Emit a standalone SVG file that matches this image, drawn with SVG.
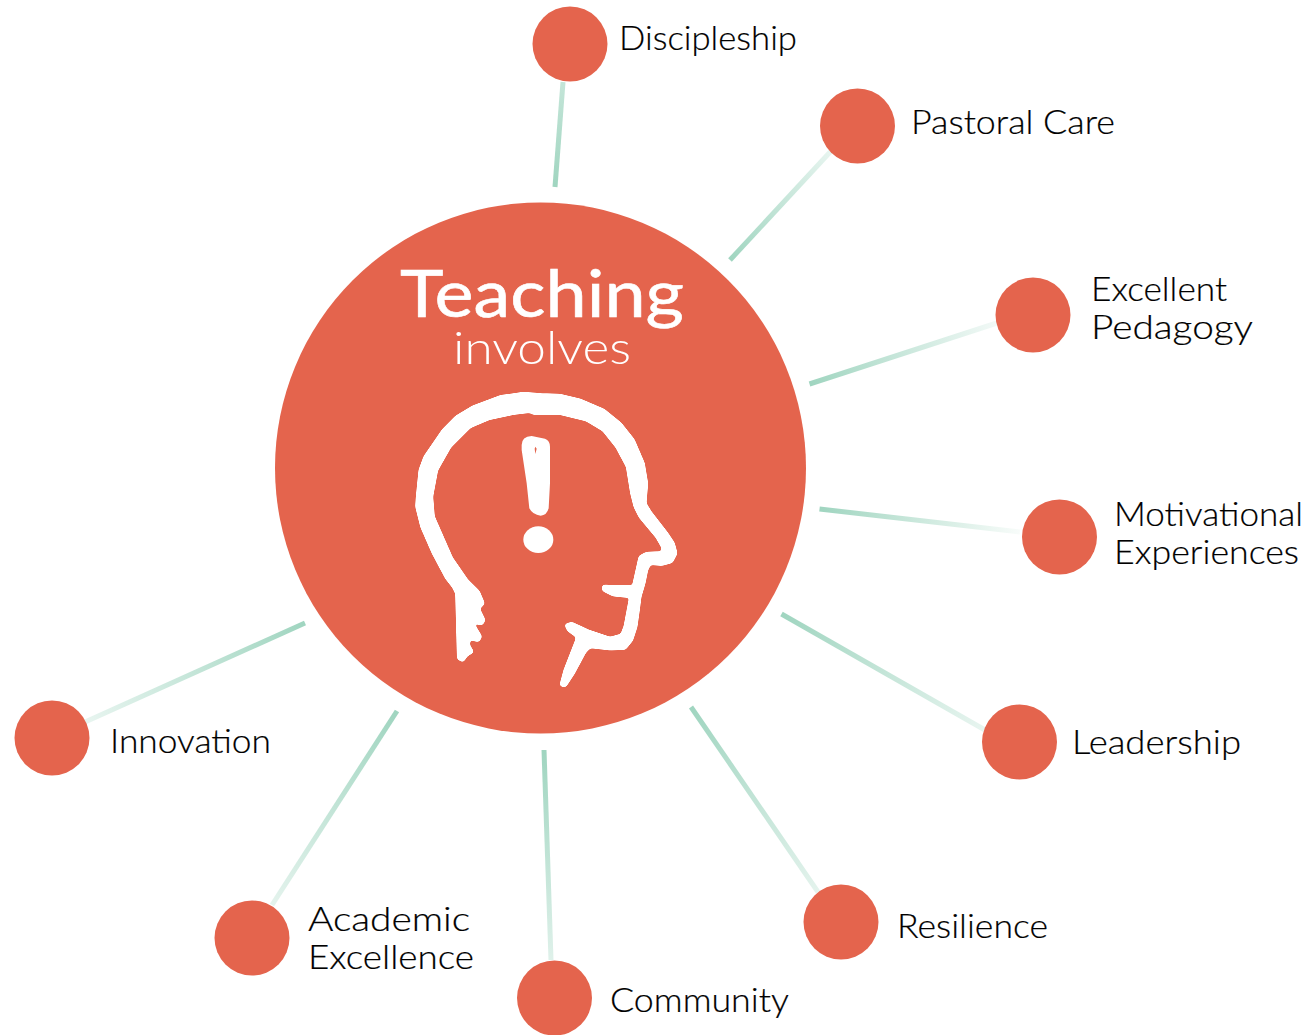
<svg xmlns="http://www.w3.org/2000/svg" width="1313" height="1035" viewBox="0 0 1313 1035">
<style>
.n{fill:#e4644d}
.t{font-family:"Lato","Liberation Sans",sans-serif;font-weight:300;font-size:33px;fill:#000;stroke:#000;stroke-width:.2}
.w{font-family:"Lato","Liberation Sans",sans-serif;fill:#fff;text-anchor:start}
.c{stroke-width:5;fill:none}
</style>
<defs>
<filter id="smooth" x="-5%" y="-5%" width="110%" height="110%" color-interpolation-filters="sRGB">
<feGaussianBlur stdDeviation="5"/>
<feComponentTransfer><feFuncA type="linear" slope="7" intercept="-1.8"/></feComponentTransfer>
</filter>
<linearGradient id="g1" gradientUnits="userSpaceOnUse" x1="555" y1="187" x2="563" y2="82"><stop offset="0" stop-color="#a0d5c0"/><stop offset="1" stop-color="#c4e5d8"/></linearGradient>
<linearGradient id="g2" gradientUnits="userSpaceOnUse" x1="730" y1="260" x2="832" y2="150"><stop offset="0" stop-color="#a0d5c0"/><stop offset="1" stop-color="#e8f5f0"/></linearGradient>
<linearGradient id="g3" gradientUnits="userSpaceOnUse" x1="810" y1="384" x2="1000" y2="322"><stop offset="0" stop-color="#a0d5c0"/><stop offset="1" stop-color="#f4faf8"/></linearGradient>
<linearGradient id="g4" gradientUnits="userSpaceOnUse" x1="820" y1="509" x2="1020" y2="532"><stop offset="0" stop-color="#a0d5c0"/><stop offset="1" stop-color="#f8fcfa"/></linearGradient>
<linearGradient id="g5" gradientUnits="userSpaceOnUse" x1="782" y1="614" x2="985" y2="730"><stop offset="0" stop-color="#a0d5c0"/><stop offset="1" stop-color="#e8f5f0"/></linearGradient>
<linearGradient id="g6" gradientUnits="userSpaceOnUse" x1="691" y1="707" x2="818" y2="892"><stop offset="0" stop-color="#a0d5c0"/><stop offset="1" stop-color="#e4f3ed"/></linearGradient>
<linearGradient id="g7" gradientUnits="userSpaceOnUse" x1="544" y1="750" x2="551" y2="960"><stop offset="0" stop-color="#a0d5c0"/><stop offset="1" stop-color="#dff1ea"/></linearGradient>
<linearGradient id="g8" gradientUnits="userSpaceOnUse" x1="397" y1="711" x2="272" y2="905"><stop offset="0" stop-color="#a0d5c0"/><stop offset="1" stop-color="#e4f3ed"/></linearGradient>
<linearGradient id="g9" gradientUnits="userSpaceOnUse" x1="305" y1="623" x2="85" y2="722"><stop offset="0" stop-color="#a0d5c0"/><stop offset="1" stop-color="#e8f5f0"/></linearGradient>
</defs>
<rect width="1313" height="1035" fill="#fff"/>
<g id="connectors">
<line class="c" stroke="url(#g1)" x1="555" y1="187" x2="563" y2="82"/>
<line class="c" stroke="url(#g2)" x1="730" y1="260" x2="832" y2="150"/>
<line class="c" stroke="url(#g3)" x1="809.500" y1="384" x2="1000" y2="322"/>
<line class="c" stroke="url(#g4)" x1="819.500" y1="509" x2="1020" y2="532"/>
<line class="c" stroke="url(#g5)" x1="781.500" y1="614" x2="985" y2="730"/>
<line class="c" stroke="url(#g6)" x1="691" y1="707" x2="818" y2="892"/>
<line class="c" stroke="url(#g7)" x1="544" y1="750" x2="551" y2="960"/>
<line class="c" stroke="url(#g8)" x1="397" y1="711" x2="272" y2="905"/>
<line class="c" stroke="url(#g9)" x1="305" y1="623" x2="85" y2="722"/>
</g>
<g id="center">
<circle class="n" cx="540.500" cy="468" r="265.500"/>
<text class="w" x="400" y="317" font-size="66" font-weight="400" stroke="#fff" stroke-width=".6" textLength="284" lengthAdjust="spacingAndGlyphs">Teaching</text>
<text class="w" x="453" y="364" font-size="46" font-weight="300" textLength="178" lengthAdjust="spacingAndGlyphs">involves</text>
<g id="head" transform="translate(390 250) scale(.33333)">
<path filter="url(#smooth)" fill="#fff" stroke="#fff" stroke-width="5" stroke-linejoin="round" d="M205 1215L200 1030 190 1010 170 985 130 910 95 830 80 770 82 740 90 660 105 620 160 540 200 500 250 470 330 440 400 430 450 434 510 436 570 450 640 480 690 520 730 570 760 640 770 700 765 760 780 785 830 850 850 880 858 910 845 935 815 943 780 940 770 960 762 1000 750 1040 745 1080 738 1130 725 1170 705 1195 660 1197 600 1190 585 1205 550 1270 525 1308 513 1305 525 1260 560 1170 562 1160 535 1140 528 1125 545 1120 600 1145 660 1165 695 1155 705 1130 722 1040 670 1035 640 1020 640 1008 670 1010 730 1010 750 920 770 910 815 908 820 895 800 860 750 800 735 770 725 730 712 650 680 590 640 540 590 510 510 490 430 490 420 484 370 490 300 505 240 530 180 590 140 660 125 740 130 800 185 925 230 990 265 1025 280 1060 265 1075 282 1110 275 1122 245 1115 272 1160 265 1172 238 1165 235 1185 247 1205 230 1215 218 1232 205 1225Z"/>
<path fill="#fff" fill-rule="evenodd" d="M395 585Q395 560 425 558L465 566Q480 572 480 590L480 700 476 775Q470 797 452 797 428 795 418 775L410 700 395 600ZM434 596L436 612 440 596 436 590Z"/>
<ellipse cx="445" cy="869" rx="45" ry="40" fill="#fff"/>
</g>
</g>
<g id="discipleship"><circle class="n" cx="570" cy="44" r="37.500"/><text class="t" x="619" y="50" textLength="178" lengthAdjust="spacingAndGlyphs">Discipleship</text></g>
<g id="pastoral-care"><circle class="n" cx="857.500" cy="126" r="37.500"/><text class="t" x="911" y="134" textLength="204" lengthAdjust="spacingAndGlyphs">Pastoral Care</text></g>
<g id="excellent-pedagogy"><circle class="n" cx="1033" cy="315" r="37.500"/><text class="t" x="1091" y="301" textLength="136" lengthAdjust="spacingAndGlyphs">Excellent</text><text class="t" x="1091" y="339" textLength="162" lengthAdjust="spacingAndGlyphs">Pedagogy</text></g>
<g id="motivational-experiences"><circle class="n" cx="1059.500" cy="537" r="37.500"/><text class="t" x="1114" y="526" textLength="189" lengthAdjust="spacingAndGlyphs">Motivational</text><text class="t" x="1114" y="564" textLength="185" lengthAdjust="spacingAndGlyphs">Experiences</text></g>
<g id="leadership"><circle class="n" cx="1019.500" cy="742" r="37.500"/><text class="t" x="1072" y="754" textLength="169" lengthAdjust="spacingAndGlyphs">Leadership</text></g>
<g id="resilience"><circle class="n" cx="841" cy="922" r="37.500"/><text class="t" x="897" y="938" textLength="151" lengthAdjust="spacingAndGlyphs">Resilience</text></g>
<g id="community"><circle class="n" cx="554.500" cy="998" r="37.500"/><text class="t" x="610" y="1012" textLength="179" lengthAdjust="spacingAndGlyphs">Community</text></g>
<g id="academic-excellence"><circle class="n" cx="252" cy="938" r="37.500"/><text class="t" x="308" y="931" textLength="162" lengthAdjust="spacingAndGlyphs">Academic</text><text class="t" x="308" y="969" textLength="166" lengthAdjust="spacingAndGlyphs">Excellence</text></g>
<g id="innovation"><circle class="n" cx="52" cy="738" r="37.500"/><text class="t" x="110" y="753" textLength="161" lengthAdjust="spacingAndGlyphs">Innovation</text></g>
</svg>
